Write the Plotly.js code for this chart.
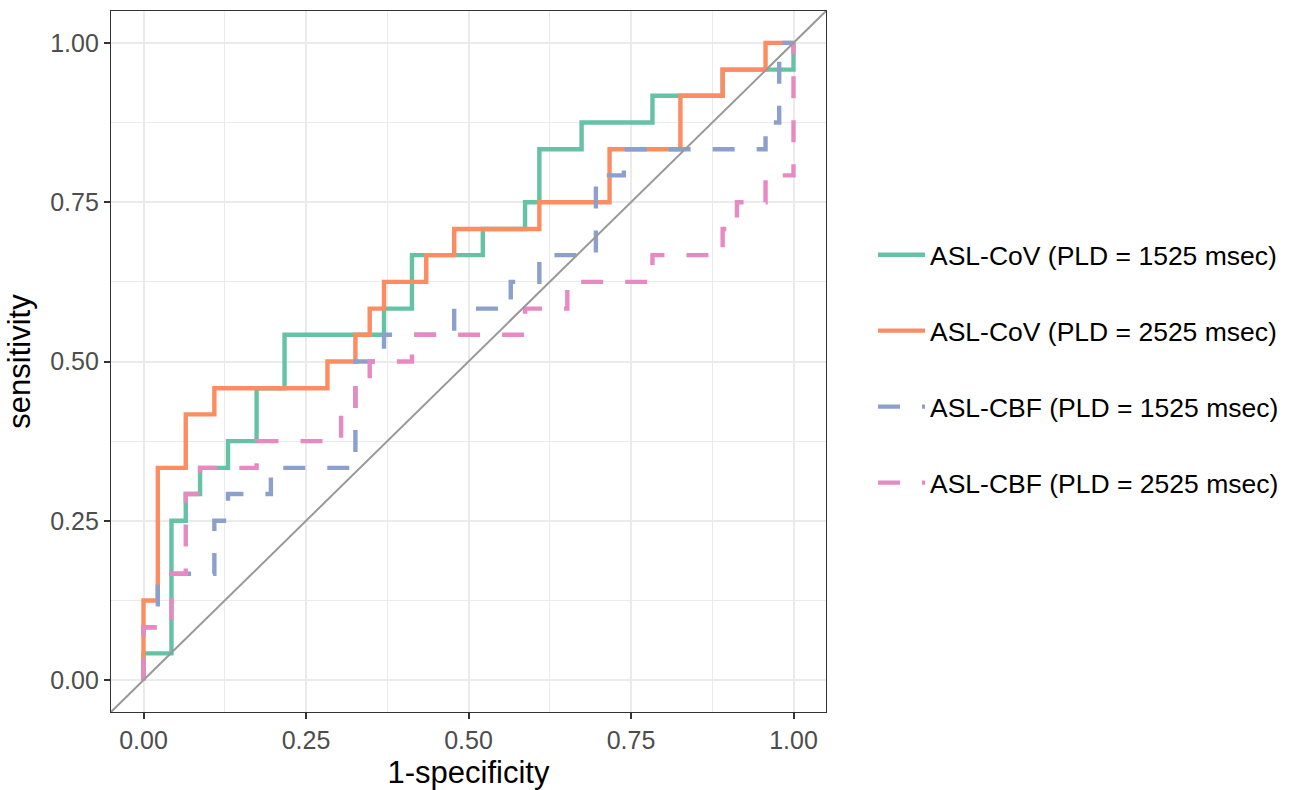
<!DOCTYPE html>
<html>
<head>
<meta charset="utf-8">
<script src="https://cdn.plot.ly/plotly-3.0.1.min.js"></script>
<style>
  html, body { margin: 0; padding: 0; background: #ffffff; }
  #chart { width: 1296px; height: 790px; }
</style>
</head>
<body>
<div id="chart"></div>
<script>
// ROC coordinates (1-specificity, sensitivity)
var seriesNames = [
  "ASL-CoV (PLD = 1525 msec)",
  "ASL-CoV (PLD = 2525 msec)",
  "ASL-CBF (PLD = 1525 msec)",
  "ASL-CBF (PLD = 2525 msec)"
];

var cov1525_fpr = [0,0,0.043,0.043,0.065,0.065,0.087,0.087,0.130,0.130,0.174,0.174,0.217,0.217,0.370,0.370,0.413,0.413,0.522,0.522,0.587,0.587,0.609,0.609,0.674,0.674,0.783,0.783,0.891,0.891,1,1];
var cov1525_tpr = [0,0.042,0.042,0.25,0.25,0.292,0.292,0.333,0.333,0.375,0.375,0.458,0.458,0.542,0.542,0.583,0.583,0.667,0.667,0.708,0.708,0.75,0.75,0.833,0.833,0.875,0.875,0.917,0.917,0.958,0.958,1];

var cov2525_fpr = [0,0,0.022,0.022,0.065,0.065,0.109,0.109,0.283,0.283,0.326,0.326,0.348,0.348,0.370,0.370,0.435,0.435,0.478,0.478,0.609,0.609,0.717,0.717,0.826,0.826,0.891,0.891,0.957,0.957,1];
var cov2525_tpr = [0,0.125,0.125,0.333,0.333,0.417,0.417,0.458,0.458,0.5,0.5,0.542,0.542,0.583,0.583,0.625,0.625,0.667,0.667,0.708,0.708,0.75,0.75,0.833,0.833,0.917,0.917,0.958,0.958,1,1];

var cbf1525_fpr = [0,0,0.022,0.022,0.109,0.109,0.130,0.130,0.196,0.196,0.326,0.326,0.370,0.370,0.478,0.478,0.565,0.565,0.609,0.609,0.696,0.696,0.739,0.739,0.957,0.957,0.978,0.978,1];
var cbf1525_tpr = [0,0.083,0.083,0.167,0.167,0.25,0.25,0.292,0.292,0.333,0.333,0.5,0.5,0.542,0.542,0.583,0.583,0.625,0.625,0.667,0.667,0.792,0.792,0.833,0.833,0.875,0.875,1,1];

var cbf2525_fpr = [0,0,0.043,0.043,0.065,0.065,0.087,0.087,0.174,0.174,0.304,0.304,0.326,0.326,0.348,0.348,0.413,0.413,0.587,0.587,0.652,0.652,0.783,0.783,0.891,0.891,0.913,0.913,0.957,0.957,1,1];
var cbf2525_tpr = [0,0.083,0.083,0.167,0.167,0.292,0.292,0.333,0.333,0.375,0.375,0.417,0.417,0.458,0.458,0.5,0.5,0.542,0.542,0.583,0.583,0.625,0.625,0.667,0.667,0.708,0.708,0.75,0.75,0.792,0.792,1];

// reference diagonal (chance line) endpoints
var diag_x = [-0.05, 1.05];
var diag_y = [-0.05, 1.05];

var tickVals = [0, 0.25, 0.5, 0.75, 1];
var tickText = ["0.00", "0.25", "0.50", "0.75", "1.00"];

var colors = ["#66C2A5", "#FC8D62", "#8DA0CB", "#E78AC3"];
var dashes = ["solid", "solid", "22px,22px", "22px,22px"];

var xs = [cov1525_fpr, cov2525_fpr, cbf1525_fpr, cbf2525_fpr];
var ys = [cov1525_tpr, cov2525_tpr, cbf1525_tpr, cbf2525_tpr];

var traces = [];
for (var i = 0; i < 4; i++) {
  traces.push({
    type: "scatter",
    mode: "lines",
    x: xs[i],
    y: ys[i],
    name: seriesNames[i],
    legendgroup: "g" + i,
    line: { color: colors[i], width: 4.4, dash: dashes[i], shape: "linear" },
    hoverinfo: "skip"
  });
}
traces.push({
  type: "scatter",
  mode: "lines",
  x: diag_x,
  y: diag_y,
  showlegend: false,
  line: { color: "#999999", width: 2 },
  hoverinfo: "skip"
});

var fontFam = "Liberation Sans, Arial, sans-serif";
var gridCol = "#EBEBEB";

var axisCommon = {
  range: [-0.05, 1.05],
  tickmode: "array",
  tickvals: tickVals,
  ticktext: tickText,
  ticks: "outside",
  ticklen: 6,
  tickwidth: 2,
  tickcolor: "#333333",
  tickfont: { family: fontFam, size: 25, color: "#4D4D4D" },
  showgrid: true,
  gridcolor: gridCol,
  gridwidth: 2,
  minor: { tickmode: "array", tickvals: [0.125, 0.375, 0.625, 0.875], showgrid: true, gridcolor: gridCol, gridwidth: 1, ticks: "" },
  zeroline: false,
  showline: true,
  mirror: true,
  linecolor: "#333333",
  linewidth: 1.2,
  fixedrange: true
};

var layout = {
  width: 1296,
  height: 790,
  paper_bgcolor: "#ffffff",
  plot_bgcolor: "#ffffff",
  margin: { l: 111, r: 470, t: 11, b: 78, pad: 0 },
  font: { family: fontFam, color: "#000000" },
  xaxis: Object.assign({}, axisCommon, {
    title: { text: "1-specificity", font: { family: fontFam, size: 31, color: "#000000" }, standoff: 9 }
  }),
  yaxis: Object.assign({}, axisCommon, {
    title: { text: "sensitivity", font: { family: fontFam, size: 31, color: "#000000" }, standoff: 10 }
  }),
  showlegend: true,
  legend: {
    xref: "container",
    yref: "container",
    x: 873 / 1296,
    xanchor: "left",
    y: 1 - 231 / 790,
    yanchor: "top",
    traceorder: "grouped",
    tracegroupgap: 38.5,
    itemwidth: 47,
    font: { family: fontFam, size: 26.5, color: "#000000" },
    bgcolor: "rgba(0,0,0,0)",
    borderwidth: 0
  }
};

Plotly.newPlot("chart", traces, layout, { staticPlot: true, displayModeBar: false });
</script>
</body>
</html>
